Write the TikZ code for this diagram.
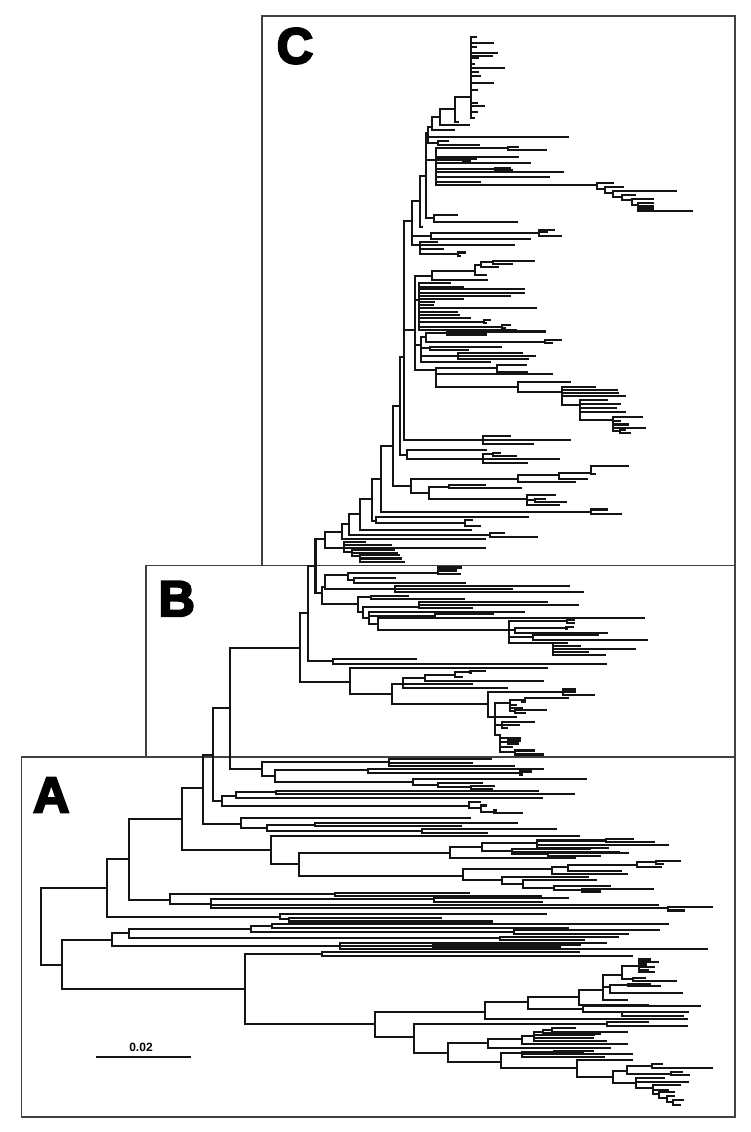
\documentclass[tikz,border=0pt]{standalone}
\usepackage{fontspec}
\setmainfont{Liberation Sans}
\newfontfamily\heavy{Liberation Sans}[FakeBold=4]
\newcommand\nd[4]{\draw[tree] (#1,#2)--(#1,#3);\foreach \a/\b in {#4}{\draw[tree] (#1,\a)--(\b,\a);}}
\begin{document}
\begin{tikzpicture}[x=0.75pt,y=-0.75pt,
  tree/.style={line width=1.55pt,black!92,line cap=rect},
  frame/.style={line width=0.9pt,black!75},
  letter/.style={font=\heavy\bfseries\fontsize{38}{40}\selectfont,inner sep=0pt,anchor=center},
  scalelab/.style={font=\bfseries\fontsize{9}{10}\selectfont,inner sep=0pt,anchor=center}]
\useasboundingbox[fill=white] (0,0) rectangle (750,1132);
% frames
\draw[frame] (262,16) rectangle (735,565.5);
\draw[frame] (146,565.5) rectangle (735,757);
\draw[frame] (21.5,757) rectangle (735,1117);
\node[letter] (labC) at (295,46) {C};
\node[letter] (labB) at (176.7,598.7) {B};
\node[letter] (labA) at (51.3,795) {A};
% scale bar
\coordinate (sb1) at (96,1057.3);
\coordinate (sb2) at (190.7,1057.3);
\draw[tree,line cap=butt] (sb1) -- (sb2);
\node[scalelab] (sbl) at (141,1047.5) {0.02};
% ===== A region =====
\nd{40.7}{888}{965}{888/107, 965/61.7}
\nd{107}{859}{917}{859/128.7, 917/280}
\nd{280}{914.3}{919}{914.3/545.7, 919/289}
\nd{289}{917.7}{921.5}{917.7/441, 921.5/492}
\nd{61.7}{940}{989}{940/112, 989/245}
\nd{112}{933.3}{945.7}{933.3/129.3, 945.7/340}
\nd{129.3}{929}{938.3}{929/251, 938.3/500}
\nd{251}{926}{932}{926/271.7, 932/514}
\nd{271.7}{924}{928}{924/668, 928/567.7}
\nd{514}{930.3}{934}{930.3/659, 934/628}
\nd{500}{936.7}{940}{936.7/618, 940/584}
\nd{340}{942.7}{949.3}{942.7/606, 946/432.7, 949.3/706.7}
\nd{432.7}{945}{947.5}{945/580, 947.5/560}
\nd{245}{954.3}{1024}{954.3/321.7, 1024/375}
\nd{321.7}{952.3}{956}{952.3/579, 956/631.7}
\nd{375}{1011.7}{1037}{1011.7/485, 1037/414}
\nd{485}{1002.3}{1019}{1002.3/527.7, 1019/686.7}
\nd{527.7}{996.7}{1009.3}{996.7/579, 1009.3/583.3}
\nd{583.3}{1006}{1012}{1006/700, 1012/622.3}
\nd{622.3}{1011.7}{1015.7}{1011.7/687.7, 1015.7/683.3}
\nd{579}{990}{1005}{990/603.3, 1005/648.3}
\nd{603.3}{975}{1000}{975/622.3, 987.3/610, 1000/627.3}
\nd{610}{985}{993}{985/628.3, 993/682.3}
\nd{628.3}{983.7}{986.3}{983.7/650, 986.3/660}
\nd{622.3}{966}{979}{966/639, 979/633}
\nd{633}{977.7}{981}{977.7/645, 981/675.7}
\nd{639}{959.5}{972.3}{959.5/650, 962/658, 964.5/646, 967/654.3, 970/648, 972.3/654.3}
\nd{414}{1024}{1052.7}{1024/607, 1052.7/448}
\nd{607}{1021.7}{1026}{1021.7/648, 1026/686.7}
\nd{448}{1043}{1062}{1043/488.3, 1062/500.7}
\nd{488.3}{1039.3}{1047.7}{1039.3/521.7, 1047.7/610}
\nd{521.7}{1036}{1044.3}{1036/534.3, 1044.3/626.7}
\nd{534.3}{1032}{1040.7}{1032/542.7, 1035/594, 1038/593, 1040.7/606}
\nd{542.7}{1030}{1033.5}{1030/551.7, 1033.5/600}
\nd{551.7}{1028.3}{1031.7}{1028.3/575, 1031.7/627.3}
\nd{500.7}{1053.3}{1068.3}{1053.3/521.7, 1068.3/576.7}
\nd{521.7}{1051.7}{1056.7}{1051.7/554.3, 1054/631.7, 1056.7/604}
\nd{554.3}{1050.7}{1053.3}{1050.7/592.7, 1053.3/583.3}
\nd{576.7}{1060}{1076.7}{1060/631.7, 1076.7/613}
\nd{613}{1071}{1083.3}{1071/627.3, 1083.3/636}
\nd{627.3}{1066}{1074}{1066/651.7, 1074/671}
\nd{651.7}{1064}{1068}{1064/661.7, 1068/712.3}
\nd{671}{1072.3}{1075}{1072.3/681.7, 1075/689.3}
\nd{636}{1078.3}{1088}{1078.3/664.3, 1082.3/688.3, 1088/652.7}
\nd{652.7}{1085}{1094}{1085/680, 1090/668, 1094/659.3}
\nd{659.3}{1092}{1098}{1092/674.3, 1098/666.7}
\nd{666.7}{1096}{1102}{1096/674.3, 1102/673.3}
\nd{673.3}{1100}{1105}{1100/683.3, 1105/680}
\nd{128.7}{819}{900}{819/182, 900/170}
\nd{170}{894}{904}{894/335, 904/211}
\nd{335}{893.3}{895.7}{893.3/469, 895.7/541}
\nd{211}{899}{908}{899/434, 905/658, 908/668}
\nd{434}{898}{902.3}{898/567.7, 902.3/541.7}
\nd{668}{907}{910.5}{907/712, 910.5/684}
\nd{182}{788}{850}{788/203, 850/271}
\nd{203}{755}{824}{755/212.7, 824/241}
\nd{241}{818}{828}{818/470, 828/266.7}
\nd{266.7}{825}{831}{825/315, 831/422}
\nd{315}{822.7}{826}{822.7/517.3, 826/460.7}
\nd{422}{829.3}{832.7}{829.3/555.7, 832.7/487.3}
\nd{271}{836}{864}{836/579, 864/299}
\nd{299}{852.7}{875.7}{852.7/450, 875.7/462.7}
\nd{450}{846.7}{858.3}{846.7/481.7, 858.3/575}
\nd{481.7}{843}{851}{843/536.7, 851/511.7}
\nd{536.7}{840.5}{848.3}{840.5/605.7, 845/668, 848.3/608}
\nd{605.7}{839.3}{842}{839.3/633, 842/654}
\nd{511.7}{849}{854.3}{849/590, 851.7/619, 854.3/547.7}
\nd{547.7}{853}{856}{853/628, 856/600}
\nd{462.7}{869.3}{880}{869.3/551.7, 880/502.3}
\nd{551.7}{867.3}{874}{867.3/567.7, 874/627.3}
\nd{567.7}{865}{870.7}{865/636.7, 870.7/620.7}
\nd{636.7}{862}{867.3}{862/656, 867.3/661}
\nd{656}{861}{864}{861/680, 864/662.7}
\nd{502.3}{876.7}{884}{876.7/588.3, 884/523.3}
\nd{523.3}{880}{888}{880/595.7, 888/554.3}
\nd{554.3}{886}{890}{886/610, 890/582.3}
\nd{582.3}{889.3}{891.5}{889.3/653.3, 891.5/600}
\nd{212.7}{707.7}{801}{707.7/230, 801/222}
\nd{222}{796}{806}{796/236, 806/469.3}
\nd{236}{792}{798}{792/276, 798/541.7}
\nd{276}{791}{794}{791/538, 794/574}
\nd{469.3}{802}{808}{802/480, 808/481}
\nd{481}{805.5}{812}{805.5/486, 812/494}
\nd{494}{810.5}{813.3}{810.5/496, 813.3/521.7}
\nd{230}{647.7}{769}{647.7/300, 769/261.7}
\nd{261.7}{761.7}{776}{761.7/389.3, 776/275}
\nd{389.3}{759.3}{765.7}{759.3/490.7, 762.7/471.7, 765.7/514}
\nd{275}{770}{782}{770/367.7, 782/413.3}
\nd{367.7}{769.3}{773}{769.3/543, 773/520}
\nd{520}{771.5}{774.5}{771.5/531, 774.5/522}
\nd{413.3}{779}{785}{779/586, 785/438.3}
\nd{438.3}{783}{787}{783/481.7, 787/470.7}
\nd{470.7}{786}{789}{786/494, 789/491.7}
% ===== B region =====
\nd{300}{613}{681.7}{613/307.7, 681.7/350}
\nd{307.7}{566}{660.7}{566/315.5, 660.7/332.7}
\nd{332.7}{659}{664}{659/416, 664/605.7}
\nd{350}{668}{694}{668/546.7, 694/392.3}
\nd{392.3}{684}{704.3}{684/403.3, 704.3/488}
\nd{403.3}{678.3}{688.3}{678.3/425, 684/471.7, 688.3/507}
\nd{425}{675}{680.7}{675/455, 680.7/543}
\nd{455}{672.3}{677.3}{672.3/470, 677.3/462}
\nd{470}{671.3}{673.3}{671.3/485, 673.3/471}
\nd{488}{691.7}{717}{691.7/563, 717/495}
\nd{563}{689.5}{694.7}{689.5/575, 692.1/575, 694.7/594}
\nd{495}{703}{735}{703/510, 717/516, 725/502, 735/500}
\nd{510}{700}{711}{700/525, 705/516, 708/522, 711/515}
\nd{525}{698.3}{702}{698.3/568, 702/522}
\nd{515}{710}{713}{710/545.7, 713/525}
\nd{502}{722}{728}{722/534, 725/519, 728/506.7}
\nd{500}{735}{752}{738/520, 741.7/508, 747/512, 752/515}
\nd{508}{740.5}{743.5}{740.5/520, 743.5/518}
\nd{515}{750.5}{754.5}{750.5/534, 754.5/543}
\nd{315.5}{539}{593}{539/325.3, 593/321.7}
\nd{321.7}{586.7}{604.3}{586.7/325, 604.3/358.3}
\nd{325}{575}{589.3}{575/348, 589.3/395}
\nd{348}{573}{580}{573/437.7, 580/354}
\nd{437.7}{567.5}{574}{567.5/461, 570.5/456, 574/460}
\nd{354}{578}{583}{578/395, 583/465}
\nd{395}{586}{592.3}{586/569.3, 589.3/511.7, 592.3/582.7}
\nd{358.3}{597}{612}{597/371, 612/363.3}
\nd{371}{595.7}{599}{595.7/407.7, 599/464}
\nd{363.3}{606.7}{618}{606.7/419.3, 618/369.3}
\nd{419.3}{602.3}{608.3}{602.3/546.7, 605/578, 608.3/471.7}
\nd{369.3}{611.7}{624}{611.7/524, 616/435, 624/378.3}
\nd{435}{614.3}{617.7}{614.3/492.7, 617.7/644}
\nd{378.3}{618}{630}{618/574, 630/509.3}
\nd{509.3}{621}{643}{621/566.7, 630/515, 637/533.3, 643/553.3}
\nd{566.7}{620}{623.3}{620/574, 623.3/574}
\nd{515}{627.7}{633}{627.7/566, 633/607.3}
\nd{566}{626.7}{629}{626.7/573, 629/567}
\nd{533.3}{635.3}{640}{635.3/598.3, 640/647.3}
\nd{553.3}{643}{655}{643/566.7, 646/580, 649.3/635, 651.7/588.3, 655/605}
% ===== C region =====
\nd{325.3}{531.7}{548.3}{531.7/342, 548.3/343.7}
\nd{343.7}{541.7}{552}{541.7/365, 545/391, 548.3/484.7, 552/352}
\nd{352}{550}{556}{550/393.7, 553/397, 556/360}
\nd{360}{555}{562}{555/399, 558.5/401, 562/403.7}
\nd{342}{524}{539.3}{524/349.3, 539.3/484.7}
\nd{349.3}{514.3}{535}{514.3/359.7, 535/490}
\nd{490}{533}{537}{533/503.7, 537/537}
\nd{359.7}{499.3}{530}{499.3/372, 530/470.7}
\nd{372}{479}{520.7}{479/381.3, 520.7/376.3}
\nd{376.3}{516.7}{523}{516.7/527.7, 523/465}
\nd{465}{520}{526}{520/472, 526/480}
\nd{381.3}{445.7}{512}{445.7/393, 512/590.7}
\nd{590.7}{509.5}{514}{509.5/607, 514/621}
\nd{393}{406}{486}{406/399.7, 486/411}
\nd{411}{479}{492.7}{479/518.3, 492.7/429}
\nd{518.3}{475}{481.7}{475/559, 481.7/575}
\nd{559}{472.7}{479.3}{472.7/590.7, 479.3/586.7}
\nd{590.7}{466}{474}{466/628, 474/595}
\nd{429}{486.7}{499.3}{486.7/449.3, 499.3/526.7}
\nd{449.3}{485}{488.3}{485/485, 488.3/520.7}
\nd{526.7}{495}{505}{495/555, 500/535, 505/559}
\nd{535}{499}{502}{499/545, 502/566}
\nd{399.7}{356.7}{455}{356.7/403.7, 455/407}
\nd{407}{450}{459.3}{450/486, 459.3/482.7}
\nd{482.7}{454}{462.7}{454/493, 459/559, 462.7/527}
\nd{493}{452.7}{456}{452.7/500, 456/516}
\nd{403.7}{221}{440}{221/412, 330/415, 440/483.3}
\nd{483.3}{436}{444}{436/510, 440/570, 444/532.7}
% upper C
\nd{412}{201}{245}{201/420.3, 236/430.7, 245/420}
\nd{430.7}{233}{239.3}{233/539.3, 239.3/530}
\nd{539.3}{230}{235.7}{230/554, 232.3/546.7, 235.7/561}
\nd{420}{241.7}{254.3}{241.7/436.7, 245/514.3, 249/443.3, 254.3/457.7}
\nd{457.7}{252.5}{256}{252.5/465, 256/460}
\nd{420.3}{176}{226.7}{176/426, 226.7/422}
\nd{426}{133.3}{218}{133.3/428.3, 160/436, 218/434}
\nd{434}{215}{221.7}{215/457.3, 221.7/517.3}
\nd{428.3}{126.7}{143}{126.7/431.7, 137.3/568.3, 143/438}
\nd{438}{140.7}{145}{140.7/448.3, 145/479.3}
\nd{431.7}{117.3}{130}{117.3/440, 130/454.3}
\nd{440}{109.3}{125}{109.3/455, 125/469}
\nd{455}{96.7}{121.7}{96.7/471, 121.7/458}
\nd{471}{37.3}{118}{37.3/475.7, 43.3/492.7, 47/476, 52.7/496.7, 55.7/491.7, 58.3/478, 64/474, 68.3/504.3, 72/478, 76/480, 83.3/492.7, 90/476.7, 102.7/476.7, 106/484.3, 111.7/476.7, 118/474}
\nd{436}{148.3}{185}{148.3/508.3, 156.7/518.3, 159.5/463.3, 162.7/530, 168.8/495, 172/562.7, 177/549.3, 181.7/480, 185/597.3}
\nd{508.3}{147}{150}{147/517.7, 150/546}
\nd{463.3}{158.5}{161}{158.5/476, 161/470}
\nd{495}{167.7}{170}{167.7/510, 170/511.7}
\nd{597.3}{183}{189}{183/612.7, 189/605}
\nd{605}{187}{193}{187/622.7, 193/613}
\nd{613}{191}{197}{191/676, 197/622}
\nd{622}{195}{200}{195/635, 200/632}
\nd{632}{199}{205}{199/652.7, 205/638}
\nd{638}{203}{211}{203/652.7, 206/652.7, 208.5/652.7, 211/691.7}
% middle C
\nd{415}{276}{370}{276/431.7, 300/419, 345/421, 370/436}
\nd{431.7}{271}{280}{271/475, 280/486.7}
\nd{475}{265}{275}{265/481, 275/486}
\nd{481}{262}{267.3}{262/492.7, 267.3/497.7}
\nd{492.7}{261}{264}{261/534.3, 264/512.3}
\nd{419}{283.3}{330}{283.3/450, 286.7/462.7, 289.3/524, 292.7/524, 296/510, 299/462.7, 301.7/434, 305/433.3, 308.3/535.7, 311.7/456.7, 315/459, 318.3/470, 321.7/484, 326.7/501.7, 330/515.7}
\nd{484}{320.3}{323}{320.3/490, 323/486}
\nd{501.7}{325}{328.3}{325/510, 328.3/505}
\nd{421}{337}{361.7}{337/426, 348.3/430, 356/458.3, 361.7/490}
\nd{426}{333}{341.7}{333/447.3, 341.7/545}
\nd{447.3}{331.5}{334.5}{331.5/545, 334.5/485.7}
\nd{545}{340}{343.3}{340/560.7, 343.3/551.7}
\nd{430}{346.7}{350}{346.7/501, 350/468.3}
\nd{458.3}{352.7}{359}{352.7/521.7, 355.7/535, 359/528.3}
\nd{436}{368}{386.7}{368/496.7, 374.3/552.3, 386.7/518.3}
\nd{496.7}{365}{371.7}{365/526, 371.7/527.3}
\nd{518.3}{381.7}{392}{381.7/570, 392/561.7}
\nd{561.7}{387}{405}{387/595, 390/616.7, 393/618, 396/625, 405/580}
\nd{580}{400}{420}{400/606.7, 404/620, 408/616, 412/625, 420/613.3}
\nd{613.3}{416.7}{431}{416.7/641.7, 421/620, 424.5/628, 428.3/645, 431/620}
\nd{620}{430}{433.3}{430/625, 433.3/630}
\end{tikzpicture}
\end{document}
